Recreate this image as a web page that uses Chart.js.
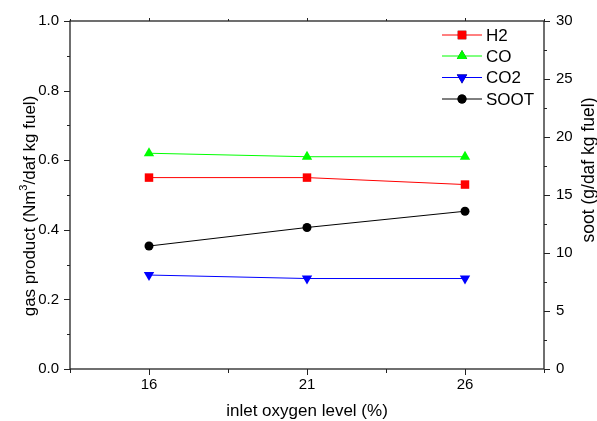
<!DOCTYPE html>
<html>
<head>
<meta charset="utf-8">
<script src="https://cdn.jsdelivr.net/npm/chart.js@4/dist/chart.umd.min.js"></script>
<style>
  html, body { margin: 0; padding: 0; background: #fff; }
  #wrap { width: 597px; height: 421px; }
</style>
</head>
<body>
<div id="wrap"><canvas id="gasChart" width="597" height="421"></canvas></div>
<script>
const oxygenLevels = [16, 21, 26];
const h2 = [0.55, 0.55, 0.53];
const co = [0.62, 0.61, 0.61];
const co2 = [0.27, 0.26, 0.26];
const soot = [10.6, 12.2, 13.6];

const xMajor = [16, 21, 26];
const xMinor = [13.5, 18.5, 23.5, 28.5];
const leftTicks = [0, 0.2, 0.4, 0.6, 0.8, 1.0];
const rightTicks = [0, 5, 10, 15, 20, 25, 30];

const FONT = '"Liberation Sans", Arial, sans-serif';

function pts(ys) {
    return oxygenLevels.map((x, i) => ({ x: x, y: ys[i] }));
}

// text with a raised "3" after the unit, centred on (0,0)
function drawSupTitle(ctx, before, sup, after, size) {
    ctx.font = size + 'px ' + FONT;
    const w1 = ctx.measureText(before).width;
    const w3 = ctx.measureText(after).width;
    ctx.font = Math.round(size * 0.62) + 'px ' + FONT;
    const w2 = ctx.measureText(sup).width;
    let x = -(w1 + w2 + w3) / 2;
    ctx.textAlign = 'left';
    ctx.font = size + 'px ' + FONT;
    ctx.fillText(before, x, 0);
    x += w1;
    ctx.font = Math.round(size * 0.62) + 'px ' + FONT;
    ctx.fillText(sup, x, -size * 0.38);
    x += w2;
    ctx.font = size + 'px ' + FONT;
    ctx.fillText(after, x, 0);
}

// frame, tick marks, rotated titles and the inner legend
const decorations = {
    id: 'decorations',
    afterDraw(chart) {
        const ctx = chart.ctx;
        const a = chart.chartArea;
        const sx = chart.scales.x, sy = chart.scales.y, sy1 = chart.scales.y1;
        ctx.save();
        ctx.strokeStyle = '#222';
        ctx.lineWidth = 1.3;
        ctx.strokeRect(a.left, a.top, a.right - a.left, a.bottom - a.top);

        ctx.lineWidth = 1;
        ctx.beginPath();
        xMajor.forEach(v => {
            const p = Math.round(sx.getPixelForValue(v)) + 0.5;
            ctx.moveTo(p, a.bottom); ctx.lineTo(p, a.bottom + 6);
            ctx.moveTo(p, a.top); ctx.lineTo(p, a.top - 3);
        });
        xMinor.forEach(v => {
            const p = Math.round(sx.getPixelForValue(v)) + 0.5;
            ctx.moveTo(p, a.bottom); ctx.lineTo(p, a.bottom + 4);
            ctx.moveTo(p, a.top); ctx.lineTo(p, a.top - 2);
        });
        for (let v = 0; v <= 1.0001; v += 0.1) {
            const p = Math.round(sy.getPixelForValue(v)) + 0.5;
            const major = Math.round(v * 10) % 2 === 0;
            ctx.moveTo(a.left, p); ctx.lineTo(a.left - (major ? 6 : 3), p);
        }
        for (let v = 0; v <= 30; v += 2.5) {
            const p = Math.round(sy1.getPixelForValue(v)) + 0.5;
            const major = v % 5 === 0;
            ctx.moveTo(a.right, p); ctx.lineTo(a.right + (major ? 6 : 3), p);
        }
        ctx.stroke();

        // axis titles
        ctx.fillStyle = '#000';
        ctx.font = '17px ' + FONT;
        ctx.textAlign = 'center';
        ctx.textBaseline = 'middle';
        ctx.fillText('inlet oxygen level (%)', (a.left + a.right) / 2, 411);
        ctx.save();
        ctx.translate(30, 206);
        ctx.rotate(-Math.PI / 2);
        drawSupTitle(ctx, 'gas product (Nm', '3', '/daf kg fuel)', 17);
        ctx.restore();
        ctx.save();
        ctx.translate(589, 170);
        ctx.rotate(-Math.PI / 2);
        ctx.textAlign = 'center';
        ctx.font = '17.5px ' + FONT;
        ctx.fillText('soot (g/daf kg fuel)', 0, 0);
        ctx.restore();

        // legend
        const rows = [35, 56, 77.5, 99];
        chart.data.datasets.forEach((ds, i) => {
            const y = rows[i];
            ctx.strokeStyle = ds.borderColor;
            ctx.lineWidth = 1;
            ctx.beginPath();
            ctx.moveTo(442, y); ctx.lineTo(482, y);
            ctx.stroke();
            Chart.helpers.drawPoint(ctx, {
                pointStyle: ds.pointStyle,
                rotation: ds.pointRotation || 0,
                radius: ds.pointRadius,
                borderWidth: 0
            }, 462, y);
            ctx.fillStyle = ds.pointBackgroundColor;
            ctx.fill();
            ctx.fillStyle = '#000';
            ctx.font = '17px ' + FONT;
            ctx.textAlign = 'left';
            ctx.fillText(ds.label, 486, y + 1);
        });
        ctx.restore();
    }
};

const ctxGas = document.getElementById('gasChart').getContext('2d');
new Chart(ctxGas, {
    type: 'line',
    data: {
        datasets: [
            { label: 'H2', data: pts(h2), yAxisID: 'y', borderColor: '#ff0000', pointBackgroundColor: '#ff0000', pointStyle: 'rect', pointRadius: 6 },
            { label: 'CO', data: pts(co), yAxisID: 'y', borderColor: '#00ff00', pointBackgroundColor: '#00ff00', pointStyle: 'triangle', pointRadius: 6 },
            { label: 'CO2', data: pts(co2), yAxisID: 'y', borderColor: '#0000ff', pointBackgroundColor: '#0000ff', pointStyle: 'triangle', pointRotation: 180, pointRadius: 6 },
            { label: 'SOOT', data: pts(soot), yAxisID: 'y1', borderColor: '#000000', pointBackgroundColor: '#000000', pointStyle: 'circle', pointRadius: 4.5 }
        ].map(d => Object.assign({ borderWidth: 1, pointBorderWidth: 0, fill: false, tension: 0 }, d))
    },
    options: {
        responsive: false,
        animation: false,
        layout: { padding: { top: 19, left: 0, right: 0, bottom: 0 } },
        plugins: { legend: { display: false }, tooltip: { enabled: false } },
        scales: {
            x: {
                type: 'linear',
                position: 'bottom',
                min: 13.5,
                max: 28.5,
                afterBuildTicks: s => { s.ticks = xMajor.map(v => ({ value: v })); },
                afterFit: s => { s.height = 52; },
                grid: { display: false, drawTicks: false },
                border: { display: false },
                ticks: { padding: 7, color: '#000', font: { family: FONT, size: 15 } }
            },
            y: {
                position: 'left',
                min: 0,
                max: 1,
                afterBuildTicks: s => { s.ticks = leftTicks.map(v => ({ value: v })); },
                afterFit: s => { s.width = 70; },
                grid: { display: false, drawTicks: false },
                border: { display: false },
                ticks: { padding: 11, color: '#000', font: { family: FONT, size: 15 }, callback: v => v.toFixed(1) }
            },
            y1: {
                position: 'right',
                min: 0,
                max: 30,
                afterBuildTicks: s => { s.ticks = rightTicks.map(v => ({ value: v })); },
                afterFit: s => { s.width = 53; },
                grid: { display: false, drawTicks: false },
                border: { display: false },
                ticks: { padding: 12, color: '#000', font: { family: FONT, size: 15 } }
            }
        }
    },
    plugins: [decorations]
});
</script>
</body>
</html>
